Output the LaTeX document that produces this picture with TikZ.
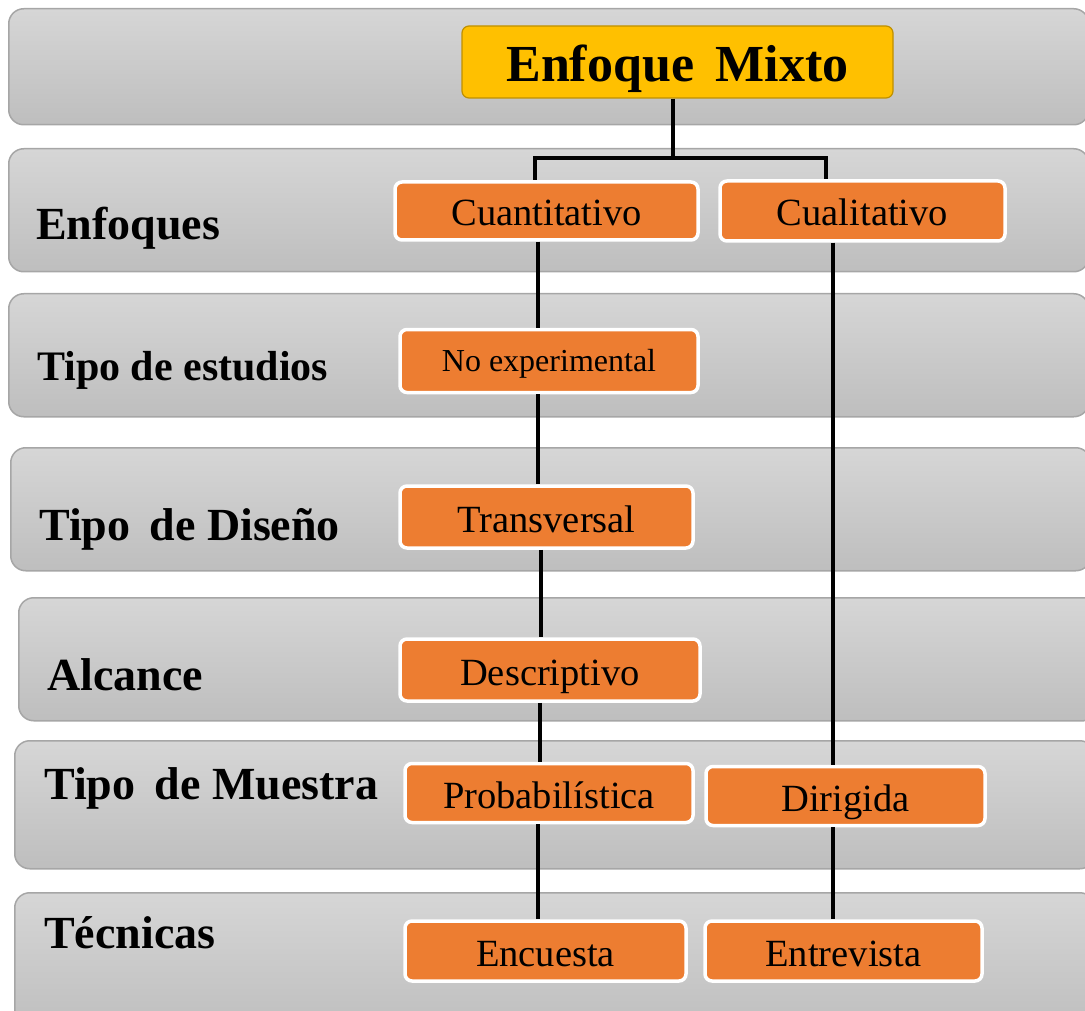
\documentclass[tikz,border=0pt]{standalone}
\usepackage{fontspec}
\setmainfont{Liberation Serif}
\definecolor{bandtop}{HTML}{D6D6D6}
\definecolor{bandbot}{HTML}{BEBEBE}
\definecolor{bandline}{HTML}{A6A6A6}
\definecolor{orangeF}{HTML}{ED7D31}
\definecolor{goldF}{HTML}{FFC000}
\definecolor{goldL}{HTML}{BF9000}
\tikzset{
  band/.style={draw=bandline, line width=1.5pt, rounded corners=15pt, top color=bandtop, bottom color=bandbot, anchor=north west, inner sep=0pt, minimum width=1080pt},
  obox/.style={draw=white, line width=3.5pt, fill=orangeF, rounded corners=7pt, inner sep=0pt, text height=30pt, text depth=0pt, font=\fontsize{38.5}{40}\selectfont},
  topbox/.style={draw=goldL, line width=1.2pt, fill=goldF, rounded corners=7pt, inner sep=0pt, text height=40pt, text depth=0pt, font=\bfseries\fontsize{52}{54}\selectfont},
  lab/.style={font=\bfseries\fontsize{46}{48}\selectfont, anchor=base west, inner sep=0pt},
  conn/.style={line width=3.5pt, black}
}
\begin{document}
\begin{tikzpicture}[x=1pt,y=-1pt]
\clip (0,0) rectangle (1085,1011);
% bands
\node[band, minimum height=116pt] (b1) at (8,8) {};
\node[band, minimum height=123pt] (b2) at (8,148) {};
\node[band, minimum height=123pt] (b3) at (8,293) {};
\node[band, minimum height=123pt] (b4) at (10,447) {};
\node[band, minimum height=123pt] (b5) at (18,597) {};
\node[band, minimum height=128pt] (b6) at (14,740) {};
\node[band, minimum height=140pt] (b7) at (14,892) {};
% labels
\node[lab] (l2) at (36,240) {Enfoques};
\node[lab, font=\bfseries\fontsize{42}{44}\selectfont] (l3) at (37,380) {Tipo de estudios};
\node[lab] (l4) at (39,540) {Tipo\, de Diseño};
\node[lab] (l5) at (47,690) {Alcance};
\node[lab] (l6) at (44,799) {Tipo\, de Muestra};
\node[lab] (l7) at (44,948) {Técnicas};
% boxes
\node[topbox, minimum width=431pt, minimum height=72pt] (mix) at (677.5,62) {Enfoque\, Mixto};
\node[obox, minimum width=303pt, minimum height=58pt] (cuan) at (546.5,211) {Cuantitativo};
\node[obox, minimum width=285pt, minimum height=60pt] (cual) at (862.5,211) {Cualitativo};
\node[obox, minimum width=298pt, minimum height=63pt, font=\fontsize{32}{34}\selectfont, text height=22pt, text depth=2pt] (noexp) at (549,361) {No experimental};
\node[obox, minimum width=293pt, minimum height=62pt] (trans) at (546.5,517) {Transversal};
\node[obox, minimum width=300pt, minimum height=62pt] (desc) at (550,670) {Descriptivo};
\node[obox, minimum width=288pt, minimum height=59pt] (prob) at (549,793) {Probabilística};
\node[obox, minimum width=279pt, minimum height=59pt] (dir) at (845.5,796) {Dirigida};
\node[obox, minimum width=281pt, minimum height=60pt] (enc) at (545.5,951) {Encuesta};
\node[obox, minimum width=277pt, minimum height=60pt] (ent) at (843.5,951) {Entrevista};
% connectors
\coordinate (split) at (673,158);
\draw[conn] (mix.south -| split) -- (split);
\draw[conn] (535,158) -- (826,158);
\draw[conn] (535,156.5) -- (cuan.north -| 535,0);
\draw[conn] (826,156.5) -- (cual.north -| 826,0);
\draw[conn] (cuan.south -| 538,0) -- (noexp.north -| 538,0);
\draw[conn] (noexp.south -| 538,0) -- (trans.north -| 538,0);
\draw[conn] (trans.south -| 541,0) -- (desc.north -| 541,0);
\draw[conn] (desc.south -| 540,0) -- (prob.north -| 540,0);
\draw[conn] (prob.south -| 538,0) -- (enc.north -| 538,0);
\draw[conn] (cual.south -| 833,0) -- (dir.north -| 833,0);
\draw[conn] (dir.south -| 833,0) -- (ent.north -| 833,0);
\end{tikzpicture}
\end{document}
